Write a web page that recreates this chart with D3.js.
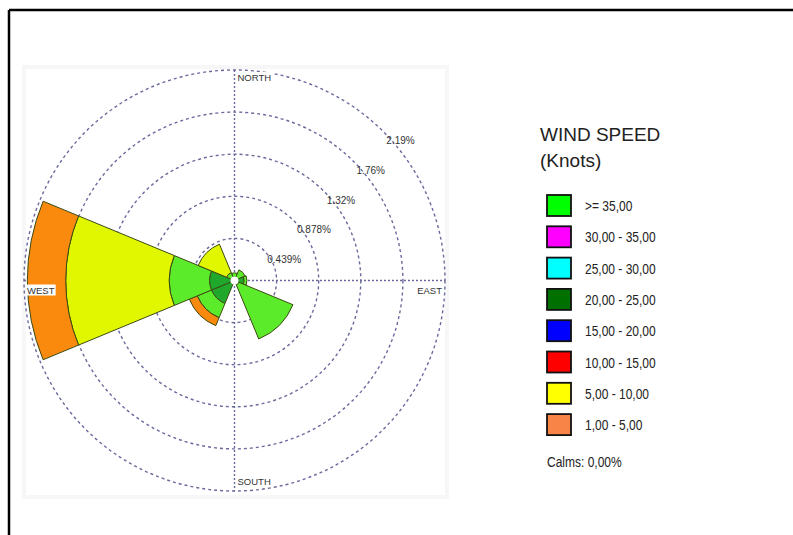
<!DOCTYPE html>
<html>
<head>
<meta charset="utf-8">
<script src="https://cdn.jsdelivr.net/npm/d3@7"></script>
<style>
  body { margin: 0; background: #fff; }
  svg { display: block; font-family: "Liberation Sans", Arial, sans-serif; }
</style>
</head>
<body>
<svg id="chart" width="793" height="535" viewBox="0 0 793 535"></svg>
<script>
// Wind directions (8 sectors, 45 deg each)
const directions = ["N", "NE", "E", "SE", "S", "SW", "W", "NW"];

// Frequencies (%) per speed class, stacked from the centre outwards
const speed20to25 = [0.00, 0.04, 0.10, 0.05, 0.00, 0.26, 0.26, 0.00];
const speedOver35 = [0.08, 0.08, 0.03, 0.61, 0.00, 0.16, 0.42, 0.09];
const speed5to10  = [0.00, 0.00, 0.00, 0.00, 0.00, 0.00, 1.08, 0.32];
const speed1to5   = [0.00, 0.00, 0.00, 0.00, 0.00, 0.09, 0.40, 0.00];

// Rings
const ringValues = [0.439, 0.878, 1.317, 1.756, 2.195];
const ringLabels = ["0.439%", "0.878%", "1.32%", "1.76%", "2.19%"];

// Legend
const legendLabels = [">= 35,00", "30,00 - 35,00", "25,00 - 30,00", "20,00 - 25,00",
    "15,00 - 20,00", "10,00 - 15,00", "5,00 - 10,00", "1,00 - 5,00"];
const legendColors = ["#00ff00", "#ff00ff", "#00ffff", "#007000",
    "#0000ff", "#ff0000", "#ffff00", "#f98448"];
const calmsText = "Calms: 0,00%";

const svg = d3.select("#chart");
const cx = 234.5, cy = 280.5;

// frame lines (top + left)
svg.append("line").attr("x1", 9).attr("y1", 10).attr("x2", 793).attr("y2", 10)
    .attr("stroke", "#000").attr("stroke-width", 2.5);
svg.append("line").attr("x1", 9).attr("y1", 10).attr("x2", 9).attr("y2", 535)
    .attr("stroke", "#000").attr("stroke-width", 2.5);

// plot background
svg.append("rect").attr("x", 24).attr("y", 67).attr("width", 423).attr("height", 430)
    .attr("fill", "#fff").attr("stroke", "#f7f7f7").attr("stroke-width", 4);

const r = d3.scaleLinear().domain([0, 2.195]).range([0, 210.5]);
const sector = Math.PI * 2 / directions.length;

const g = svg.append("g").attr("transform", `translate(${cx},${cy})`);
const gridColor = "#6a6a9c";

// ring circles
g.append("g").selectAll("circle")
    .data(ringValues)
    .join("circle")
    .attr("r", d => r(d))
    .attr("fill", "none")
    .attr("stroke", gridColor)
    .attr("stroke-width", 1.4)
    .attr("stroke-dasharray", "3,3");

// axis lines
const R = r(2.195);
g.append("line").attr("x1", 0).attr("x2", 0).attr("y1", -R).attr("y2", R)
    .attr("stroke", gridColor).attr("stroke-width", 1.4).attr("stroke-dasharray", "2,2");
g.append("line").attr("x1", -R).attr("x2", R).attr("y1", 0).attr("y2", 0)
    .attr("stroke", gridColor).attr("stroke-width", 1.4).attr("stroke-dasharray", "2,2");

// petals
const series = [
    { values: speed20to25, color: "#1fa82c" },
    { values: speedOver35, color: "#5ceb2a" },
    { values: speed5to10, color: "#e0f700" },
    { values: speed1to5, color: "#f98a0e" }
];
const pieces = [];
directions.forEach((dir, i) => {
    let acc = 0;
    series.forEach(s => {
        const v = s.values[i];
        if (v > 0) pieces.push({ i, inner: acc, outer: acc + v, color: s.color });
        acc += v;
    });
});

const arc = d3.arc()
    .innerRadius(d => r(d.inner))
    .outerRadius(d => r(d.outer))
    .startAngle(d => d.i * sector - sector / 2)
    .endAngle(d => d.i * sector + sector / 2);

g.append("g").selectAll("path")
    .data(pieces)
    .join("path")
    .attr("d", arc)
    .attr("fill", d => d.color)
    .attr("stroke", "#3c4a14")
    .attr("stroke-width", 1);

g.append("circle").attr("r", 4).attr("fill", "#fff");

// ring labels along the 45 deg diagonal
g.append("g").selectAll("text")
    .data(ringValues)
    .join("text")
    .attr("x", (d) => r(d) * Math.SQRT1_2 + 3)
    .attr("y", (d) => -r(d) * Math.SQRT1_2 + 12.5)
    .attr("font-size", 10)
    .attr("fill", "#333")
    .text((d, i) => ringLabels[i]);

// compass labels with white boxes
const compass = [
    { text: "NORTH", x: 3, y: -R + 11, anchor: "start" },
    { text: "SOUTH", x: 3, y: R - 6, anchor: "start" },
    { text: "WEST", x: -R + 3, y: 13, anchor: "start" },
    { text: "EAST", x: R - 3, y: 13, anchor: "end" }
];
compass.forEach(c => {
    const t = g.append("text")
        .attr("x", c.x).attr("y", c.y)
        .attr("text-anchor", c.anchor)
        .attr("font-size", 9.5)
        .attr("fill", "#333")
        .text(c.text);
    const b = t.node().getBBox();
    g.insert("rect", () => t.node())
        .attr("x", b.x - 1).attr("y", b.y)
        .attr("width", b.width + 2).attr("height", b.height)
        .attr("fill", "#fff");
});

// legend
const lg = svg.append("g");
lg.append("text").attr("x", 540).attr("y", 141)
    .attr("font-size", 19).attr("fill", "#222").text("WIND SPEED");
lg.append("text").attr("x", 540).attr("y", 167)
    .attr("font-size", 19).attr("fill", "#222").text("(Knots)");

const items = lg.selectAll("g.item")
    .data(legendLabels)
    .join("g")
    .attr("class", "item")
    .attr("transform", (d, i) => `translate(547,${195 + i * 31.3})`);
items.append("rect")
    .attr("width", 24).attr("height", 21)
    .attr("fill", (d, i) => legendColors[i])
    .attr("stroke", "#111").attr("stroke-width", 1.8);
items.append("text")
    .attr("transform", "translate(38,16) scale(0.8,1)")
    .attr("font-size", 15)
    .attr("fill", "#222")
    .text(d => d);

lg.append("text")
    .attr("transform", "translate(547,467) scale(0.8,1)")
    .attr("font-size", 15)
    .attr("fill", "#222")
    .text(calmsText);
</script>
</body>
</html>
